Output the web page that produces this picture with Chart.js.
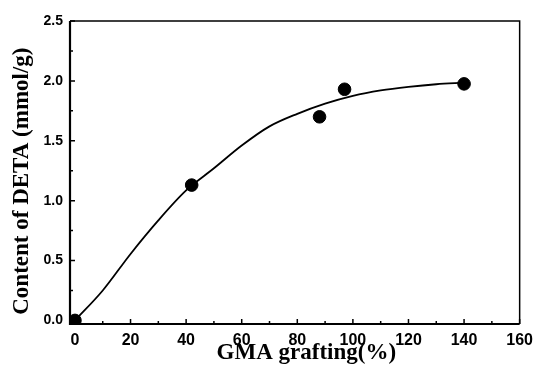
<!DOCTYPE html>
<html lang="en">
<head>
    <meta charset="UTF-8">
    <title>DETA content vs GMA grafting</title>
    <script src="https://cdn.jsdelivr.net/npm/chart.js@4.4.1/dist/chart.umd.min.js"></script>
    <style>
        body { margin: 0; background: #fff; }
        canvas { display: block; }
    </style>
</head>
<body>
    <canvas id="myChart" width="540" height="367"></canvas>

    <script>
        // measured points
        var grafting = [0, 42, 88, 97, 140];
        var detaContent = [0.0, 1.13, 1.70, 1.93, 1.975];

        // fitted curve
        var curveX = [0, 10, 20, 30, 40, 50, 60, 70, 80, 90, 100, 110, 120, 130, 140];
        var curveY = [0, 0.25, 0.555, 0.835, 1.085, 1.27, 1.46, 1.62, 1.725, 1.81, 1.875, 1.92, 1.95, 1.972, 1.985];

        var xTicks = [0, 20, 40, 60, 80, 100, 120, 140, 160];
        var yTicks = [0.0, 0.5, 1.0, 1.5, 2.0, 2.5];

        // frame + inward tick marks
        var framePlugin = {
            id: 'frame',
            afterDraw: function(chart) {
                var c = chart.ctx;
                var a = chart.chartArea;
                var xs = chart.scales.x, ys = chart.scales.y;
                c.save();
                c.strokeStyle = '#000';
                c.lineWidth = 1.5;
                c.beginPath();
                c.moveTo(a.left, a.top); c.lineTo(a.right, a.top); c.lineTo(a.right, a.bottom);
                c.stroke();
                c.lineWidth = 2.2;
                c.beginPath();
                c.moveTo(a.left, a.top); c.lineTo(a.left, a.bottom); c.lineTo(a.right, a.bottom);
                c.stroke();

                c.lineWidth = 1.5;
                c.beginPath();
                for (var i = 0; i < xTicks.length; i++) {
                    var px = xs.getPixelForValue(xTicks[i]);
                    c.moveTo(px, a.bottom); c.lineTo(px, a.bottom - 5);
                    if (i < xTicks.length - 1) {
                        var mx = xs.getPixelForValue(xTicks[i] + 10);
                        c.moveTo(mx, a.bottom); c.lineTo(mx, a.bottom - 3);
                    }
                }
                for (var j = 0; j < yTicks.length; j++) {
                    var py = ys.getPixelForValue(yTicks[j]);
                    c.moveTo(a.left, py); c.lineTo(a.left + 5, py);
                    if (j < yTicks.length - 1) {
                        var my = ys.getPixelForValue(yTicks[j] + 0.25);
                        c.moveTo(a.left, my); c.lineTo(a.left + 3, my);
                    }
                }
                c.stroke();
                c.restore();
            }
        };

        var ctx = document.getElementById('myChart').getContext('2d');
        var myChart = new Chart(ctx, {
            type: 'scatter',
            data: {
                datasets: [{
                    label: 'Fit',
                    type: 'line',
                    data: curveX.map(function(x, i) { return {x: x, y: curveY[i]}; }),
                    borderColor: '#000',
                    borderWidth: 1.8,
                    pointRadius: 0,
                    fill: false,
                    cubicInterpolationMode: 'monotone'
                }, {
                    label: 'DETA',
                    data: grafting.map(function(x, i) { return {x: x, y: detaContent[i]}; }),
                    backgroundColor: '#000',
                    borderColor: '#000',
                    pointRadius: 6.3,
                    pointHoverRadius: 6.3
                }]
            },
            options: {
                responsive: false,
                animation: false,
                layout: { padding: { top: 21, right: 15, left: 0, bottom: 0 } },
                plugins: {
                    legend: { display: false },
                    tooltip: { enabled: false }
                },
                scales: {
                    x: {
                        type: 'linear',
                        min: -1.78,
                        max: 160,
                        afterBuildTicks: function(s) { s.ticks = xTicks.map(function(v) { return {value: v}; }); },
                        afterFit: function(s) { s.height = 43; },
                        grid: { display: false, drawTicks: false },
                        border: { display: false },
                        ticks: {
                            padding: 7,
                            color: '#000',
                            maxRotation: 0,
                            font: { family: 'Liberation Sans', weight: 'bold', size: 16 }
                        },
                        title: {
                            display: true,
                            // leading spaces nudge the centred title to the right
                            text: '    GMA grafting(%)',
                            color: '#000',
                            padding: { top: 0, bottom: 0 },
                            font: { family: 'Liberation Serif', weight: 'bold', size: 23 }
                        }
                    },
                    y: {
                        min: -0.03,
                        max: 2.5,
                        afterBuildTicks: function(s) { s.ticks = yTicks.map(function(v) { return {value: v}; }); },
                        afterFit: function(s) { s.width = 70; },
                        grid: { display: false, drawTicks: false },
                        border: { display: false },
                        ticks: {
                            padding: 7,
                            color: '#000',
                            font: { family: 'Liberation Sans', weight: 'bold', size: 14 },
                            callback: function(v) { return v.toFixed(1); }
                        },
                        title: {
                            display: true,
                            text: 'Content of DETA (mmol/g)   ',
                            color: '#000',
                            padding: { top: 8, bottom: 0 },
                            font: { family: 'Liberation Serif', weight: 'bold', size: 23 }
                        }
                    }
                }
            },
            plugins: [framePlugin]
        });
    </script>
</body>
</html>
